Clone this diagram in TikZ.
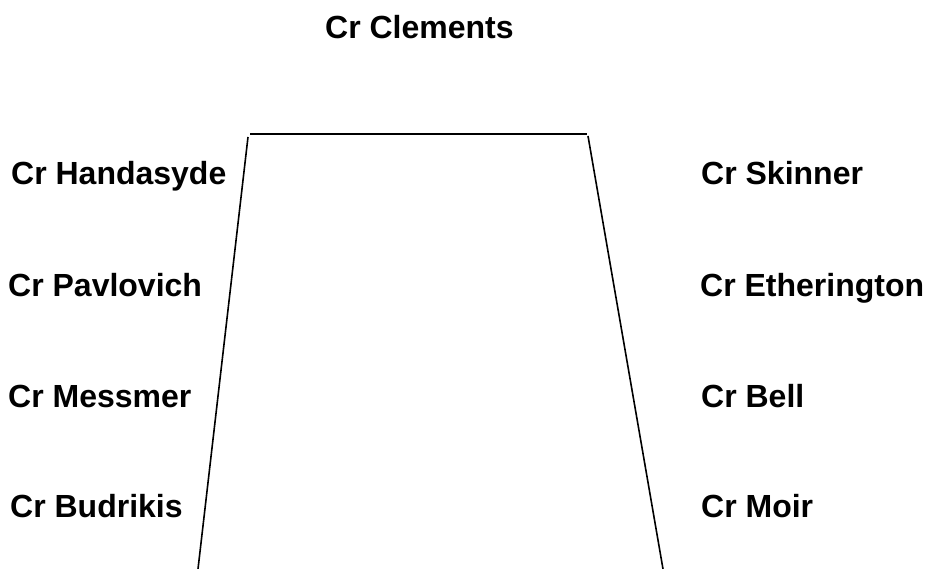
\documentclass[tikz,border=0pt]{standalone}
\usepackage{fontspec}
\setmainfont{Liberation Sans}
\begin{document}
\begin{tikzpicture}[x=1pt,y=-1pt,
  member/.style={anchor=base west,inner sep=0pt,font=\bfseries\fontsize{32}{38}\selectfont},
  edge/.style={line width=1.6pt,black}]
\useasboundingbox (0,0) rectangle (926,569);
% table outline
\coordinate (tl) at (250,134);
\coordinate (tr) at (587,134);
\coordinate (lt) at (248,137);
\coordinate (lb) at (198,569);
\coordinate (rt) at (588,136);
\coordinate (rb) at (663,569);
\draw[edge] (tl) -- (tr);
\draw[edge] (lt) -- (lb);
\draw[edge] (rt) -- (rb);
% chair
\node[member] (clements) at (325,39) {Cr Clements};
% left side
\node[member] (handasyde) at (11,185) {Cr Handasyde};
\node[member] (pavlovich) at (8,297) {Cr Pavlovich};
\node[member] (messmer) at (8,407) {Cr Messmer};
\node[member] (budrikis) at (10,517) {Cr Budrikis};
% right side
\node[member] (skinner) at (701,185) {Cr Skinner};
\node[member] (etherington) at (700,297) {Cr Etherington};
\node[member] (bell) at (701,407) {Cr Bell};
\node[member] (moir) at (701,517) {Cr Moir};
\end{tikzpicture}
\end{document}
